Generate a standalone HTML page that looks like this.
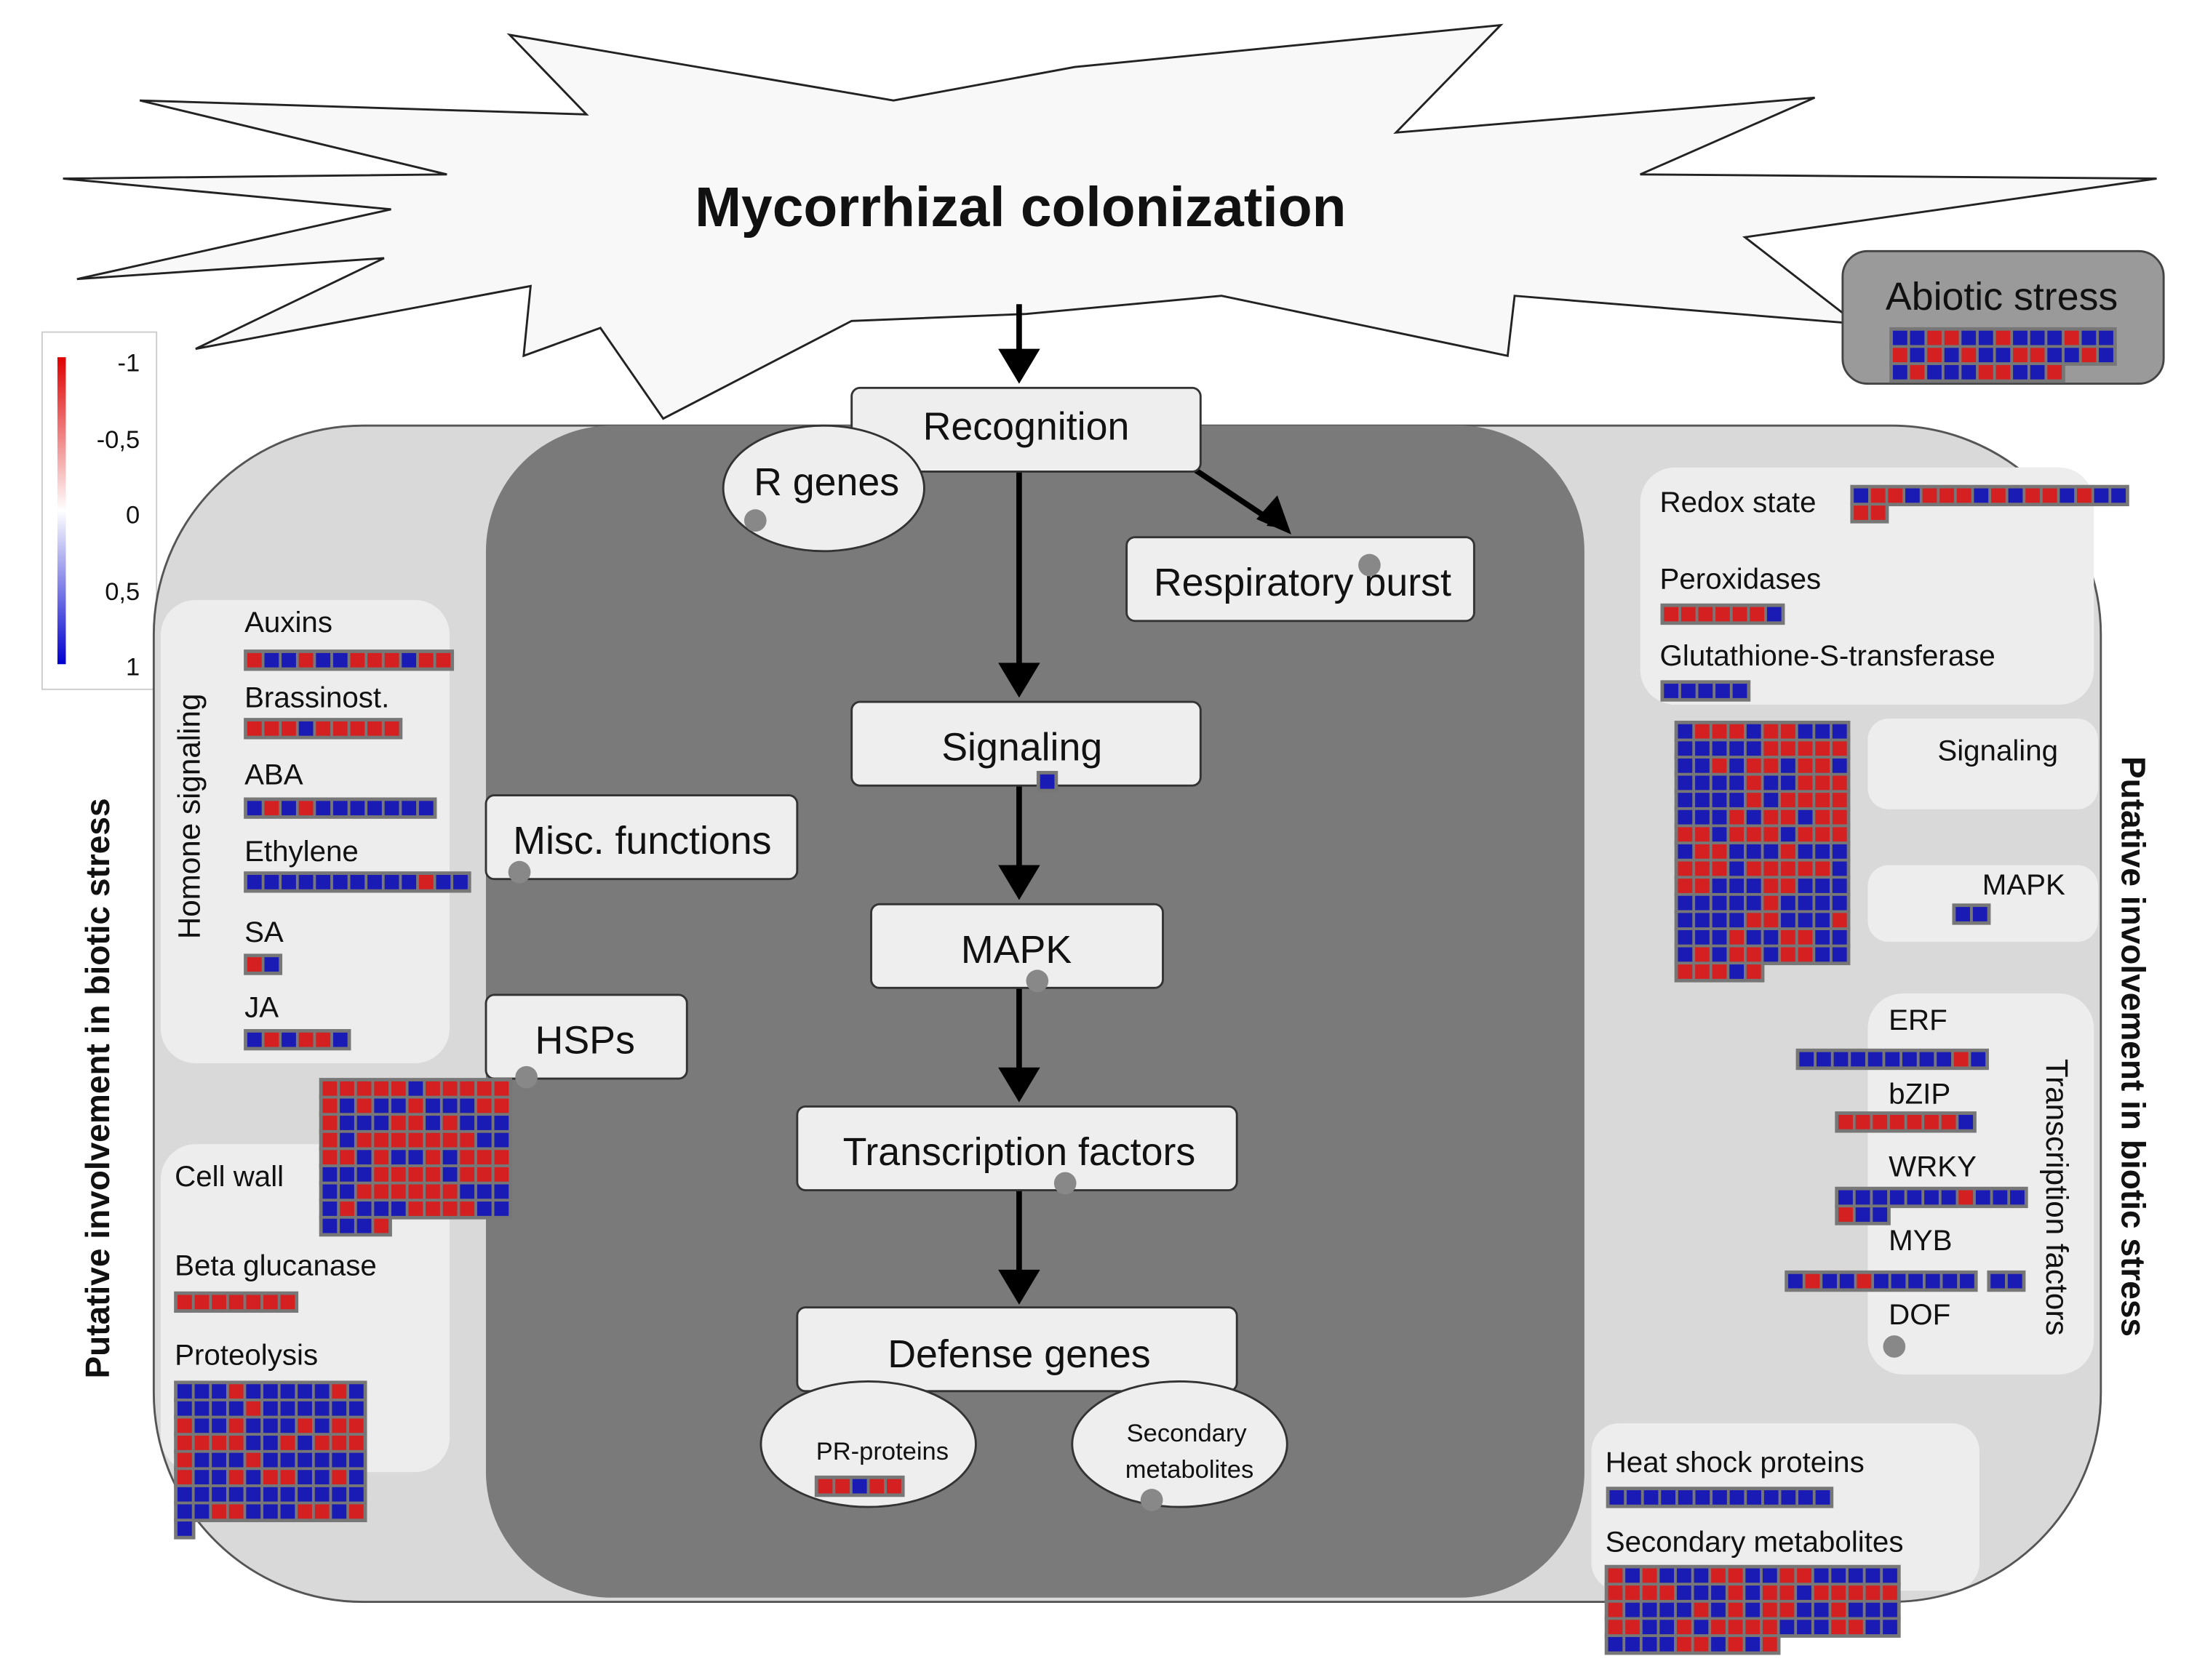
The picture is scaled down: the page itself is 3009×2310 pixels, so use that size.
<!DOCTYPE html>
<html><head><meta charset="utf-8"><style>
html,body{margin:0;padding:0;background:#fff;}
svg{display:block;}
text{font-family:"Liberation Sans",sans-serif;fill:#111;}
</style></head><body>
<svg id="s" width="3009" height="2310" viewBox="0 0 1568 1204" xmlns="http://www.w3.org/2000/svg">
<defs>
<linearGradient id="lg" x1="0" y1="0" x2="0" y2="1">
<stop offset="0" stop-color="#e00000"/><stop offset="0.5" stop-color="#ffffff"/><stop offset="1" stop-color="#0000d0"/>
</linearGradient>
<marker id="ah" markerWidth="10" markerHeight="10" refX="6" refY="5" orient="auto" markerUnits="userSpaceOnUse" viewBox="0 0 10 10"><path d="M0,0 L10,5 L0,10 z" fill="#000"/></marker>
</defs>
<rect width="1568" height="1204" fill="#fff"/>
<!-- starburst -->
<polygon points="45,128 320,125 100,72 420,82 365,25 640,72 770,48 1075,18 1000,95 1300,70 1175,125 1545,128 1250,170 1330,232 1085,212 1080,255 875,212 735,225 610,230 475,300 430,235 375,255 380,205 140,250 275,185 55,200 280,150" fill="#f8f8f8" stroke="#222" stroke-width="1.5"/>
<text x="731" y="162" font-size="40" font-weight="bold" text-anchor="middle">Mycorrhizal colonization</text>
<!-- legend -->
<rect x="30" y="238" width="82" height="256" fill="#fff" stroke="#ccc"/>
<rect x="41" y="256" width="6" height="220" fill="url(#lg)"/>
<g font-size="18" text-anchor="end"><text x="100" y="266">-1</text><text x="100" y="321">-0,5</text><text x="100" y="375">0</text><text x="100" y="430">0,5</text><text x="100" y="484">1</text></g>
<!-- outer containers -->
<rect x="110" y="305" width="1395" height="843" rx="150" fill="#d9d9d9" stroke="#555" stroke-width="1.5"/>
<rect x="348" y="305" width="787" height="840" rx="90" fill="#7a7a7a"/>
<!-- light panels -->
<g fill="#ededed">
<rect x="115" y="430" width="207" height="332" rx="25"/>
<rect x="115" y="820" width="207" height="235" rx="25"/>
<rect x="1175" y="335" width="325" height="170" rx="25"/>
<rect x="1338" y="515" width="165" height="65" rx="15"/>
<rect x="1338" y="620" width="165" height="55" rx="15"/>
<rect x="1338" y="712" width="162" height="273" rx="25"/>
<rect x="1140" y="1020" width="278" height="120" rx="20"/>
</g>
<!-- abiotic -->
<rect x="1320" y="180" width="230" height="95" rx="18" fill="#9a9a9a" stroke="#444" stroke-width="1.5"/>
<text x="1434" y="222" font-size="28" text-anchor="middle">Abiotic stress</text>
<!-- arrows -->
<g stroke="#000" stroke-width="4" marker-end="url(#ah)" fill="none">
<line x1="730" y1="218" x2="730" y2="262"/>
<line x1="730" y1="338" x2="730" y2="488"/>
<line x1="855" y1="336" x2="915" y2="376"/>
<line x1="730" y1="563" x2="730" y2="632"/>
<line x1="730" y1="708" x2="730" y2="777"/>
<line x1="730" y1="853" x2="730" y2="922"/>
</g>
<g stroke="#000" stroke-width="0" fill="#000">
<polygon points="715,250 745,250 730,275"/>
<polygon points="715,475 745,475 730,500"/>
<polygon points="900,372 925,383 915,355"/>
<polygon points="715,620 745,620 730,645"/>
<polygon points="715,765 745,765 730,790"/>
<polygon points="715,910 745,910 730,935"/>
</g>
<!-- nodes -->
<g fill="#eeeeee" stroke="#333" stroke-width="1.5">
<rect x="610" y="278" width="250" height="60" rx="6"/>
<rect x="610" y="503" width="250" height="60" rx="6"/>
<rect x="624" y="648" width="209" height="60" rx="6"/>
<rect x="571" y="793" width="315" height="60" rx="6"/>
<rect x="571" y="937" width="315" height="60" rx="6"/>
<rect x="807" y="385" width="249" height="60" rx="6"/>
<rect x="348" y="570" width="223" height="60" rx="6"/>
<rect x="348" y="713" width="144" height="60" rx="6"/>
<ellipse cx="590" cy="350" rx="72" ry="45"/>
<ellipse cx="622" cy="1035" rx="77" ry="45"/>
<ellipse cx="845" cy="1035" rx="77" ry="45"/>
</g>
<g font-size="28" text-anchor="middle">
<text x="735" y="315">Recognition</text>
<text x="732" y="545">Signaling</text>
<text x="728" y="690">MAPK</text>
<text x="730" y="835">Transcription factors</text>
<text x="730" y="980">Defense genes</text>
<text x="933" y="427">Respiratory burst</text>
<text x="460" y="612">Misc. functions</text>
<text x="419" y="755">HSPs</text>
<text x="592" y="355">R genes</text>
</g>
<g font-size="18" text-anchor="middle">
<text x="632" y="1046">PR-proteins</text>
<text x="850" y="1033">Secondary</text><text x="852" y="1059">metabolites</text>
</g>
<!-- labels -->
<g font-size="21">
<text x="175" y="453">Auxins</text><text x="175" y="507">Brassinost.</text><text x="175" y="562">ABA</text>
<text x="175" y="617">Ethylene</text><text x="175" y="675">SA</text><text x="175" y="729">JA</text>
<text x="125" y="850">Cell wall</text><text x="125" y="914">Beta glucanase</text><text x="125" y="978">Proteolysis</text>
<text x="1189" y="367">Redox state</text><text x="1189" y="422">Peroxidases</text><text x="1189" y="477">Glutathione-S-transferase</text>
<text x="1388" y="545">Signaling</text><text x="1420" y="641">MAPK</text>
<text x="1353" y="738">ERF</text><text x="1353" y="791">bZIP</text><text x="1353" y="843">WRKY</text><text x="1353" y="896">MYB</text><text x="1353" y="949">DOF</text>
<text x="1150" y="1055">Heat shock proteins</text><text x="1150" y="1112">Secondary metabolites</text>
</g>
<text transform="translate(143,585) rotate(-90)" font-size="22" text-anchor="middle">Homone signaling</text>
<text transform="translate(1466,858) rotate(90)" font-size="22" text-anchor="middle">Transcription factors</text>
<text transform="translate(78,780) rotate(-90)" font-size="24" font-weight="bold" text-anchor="middle">Putative involvement in biotic stress</text>
<text transform="translate(1520,750) rotate(90)" font-size="24" font-weight="bold" text-anchor="middle">Putative involvement in biotic stress</text>
<g id="hm"></g>
<g fill="#888">
<circle cx="541" cy="373" r="8"/><circle cx="981" cy="405" r="8"/><circle cx="372" cy="625" r="8"/><circle cx="377" cy="772" r="8"/>
<circle cx="743" cy="703" r="8"/><circle cx="763" cy="848" r="8"/><circle cx="825" cy="1075" r="8"/><circle cx="1357" cy="965" r="8"/>
</g>
</svg>
<script>
(function(){
var g=document.getElementById('hm'),ns='http://www.w3.org/2000/svg',seed=7;
function rnd(){seed=(seed*9301+49297)%233280;return seed/233280;}
function hm(x,y,cols,n,pr){
 var s=12.3,rows=Math.ceil(n/cols);
 for(var r=0;r<rows;r++){var c=Math.min(cols,n-r*cols);
  var b=document.createElementNS(ns,'rect');b.setAttribute('x',x-1.5);b.setAttribute('y',y+r*s-1.5);b.setAttribute('width',c*s+3);b.setAttribute('height',s+3);b.setAttribute('fill','#777');g.appendChild(b);}
 for(var i=0;i<n;i++){var e=document.createElementNS(ns,'rect');
  e.setAttribute('x',x+(i%cols)*s+1);e.setAttribute('y',y+Math.floor(i/cols)*s+1);
  e.setAttribute('width',s-2);e.setAttribute('height',s-2);
  e.setAttribute('fill',rnd()<pr?'#d42020':'#1a1ab4');g.appendChild(e);}
}
hm(1355,236,13,36,0.35);hm(1327,349,16,18,0.5);hm(1191,434,7,7,0.9);hm(1191,489,5,5,0.2);
hm(1201,518,10,145,0.45);hm(1400,649,2,2,0);hm(1288,753,11,11,0.1);hm(1316,798,8,8,0.6);
hm(1316,852,11,14,0.1);hm(1280,912,11,11,0.3);hm(1425,912,2,2,0);hm(1152,1067,13,13,0.1);
hm(1151,1123,17,78,0.45);hm(176,467,12,12,0.3);hm(176,516,9,9,0.8);hm(176,573,11,11,0.3);
hm(176,626,13,13,0.15);hm(176,685,2,2,0.5);hm(176,739,6,6,0.6);hm(230,774,11,92,0.55);
hm(126,927,7,7,0.8);hm(126,991,11,89,0.3);hm(744,554,1,1,0);hm(585,1059,5,5,0.4);
})();
</script>
</body></html>
